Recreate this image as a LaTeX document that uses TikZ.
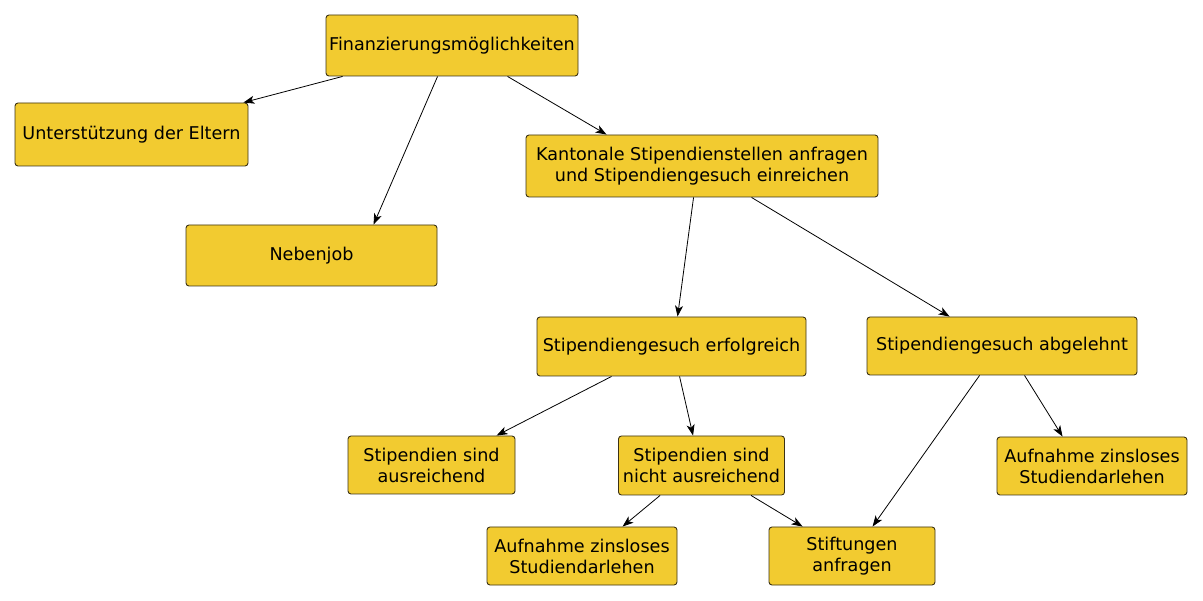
\documentclass[tikz,border=0pt]{standalone}
\usepackage{fontspec}
\setmainfont{DejaVu Sans}
\usetikzlibrary{arrows.meta,calc}
\definecolor{boxfill}{RGB}{242,203,48}
\definecolor{boxline}{RGB}{60,50,20}
\tikzset{
  box/.style={draw=boxline, line width=0.9pt, fill=boxfill, rounded corners=3pt,
    inner sep=0pt, align=center, font=\fontsize{17.6}{21}\selectfont, text=black},
  conn/.style={draw=black, line width=0.8pt, -{Stealth[length=11pt,width=8pt,inset=3pt]}}
}
\begin{document}
\begin{tikzpicture}[x=1pt,y=-1pt]
\useasboundingbox (0,0) rectangle (1203,601);
\node[box, minimum width=252, minimum height=61] (fin) at (452,45.5) {Finanzierungsmöglichkeiten};
\node[box, minimum width=233, minimum height=63] (elt) at (131.5,134.5) {Unterstützung der Eltern};
\node[box, minimum width=251, minimum height=61] (neb) at (311.5,255.5) {Nebenjob};
\node[box, minimum width=352, minimum height=62] (kan) at (702,166) {Kantonale Stipendienstellen anfragen\\und Stipendiengesuch einreichen};
\node[box, minimum width=269, minimum height=59] (erf) at (671.5,346.5) {Stipendiengesuch erfolgreich};
\node[box, minimum width=270, minimum height=58] (abg) at (1002,346) {Stipendiengesuch abgelehnt};
\node[box, minimum width=167, minimum height=58] (aus) at (431.5,465) {Stipendien sind\\ausreichend};
\node[box, minimum width=166, minimum height=59] (nau) at (701.5,465.5) {Stipendien sind\\nicht ausreichend};
\node[box, minimum width=190, minimum height=58] (auf1) at (582,556) {Aufnahme zinsloses\\Studiendarlehen};
\node[box, minimum width=166, minimum height=58] (sti) at (852,556) {Stiftungen\\anfragen};
\node[box, minimum width=190, minimum height=58] (auf2) at (1092,466) {Aufnahme zinsloses\\Studiendarlehen};

\draw[conn] ([xshift=17pt]fin.south west) -- ([xshift=-5pt]elt.north east);
\draw[conn] ([xshift=112pt]fin.south west) -- ([xshift=188pt]neb.north west);
\draw[conn] ([xshift=182pt]fin.south west) -- ([xshift=81pt]kan.north west);
\draw[conn] ([xshift=168pt]kan.south west) -- ([xshift=141pt]erf.north west);
\draw[conn] ([xshift=226pt]kan.south west) -- ([xshift=83pt]abg.north west);
\draw[conn] ([xshift=75pt]erf.south west) -- ([xshift=149pt]aus.north west);
\draw[conn] ([xshift=143pt]erf.south west) -- ([xshift=75pt]nau.north west);
\draw[conn] ([xshift=42pt]nau.south west) -- ([xshift=136pt]auf1.north west);
\draw[conn] ([xshift=133pt]nau.south west) -- ([xshift=34pt]sti.north west);
\draw[conn] ([xshift=113pt]abg.south west) -- ([xshift=104pt]sti.north west);
\draw[conn] ([xshift=158pt]abg.south west) -- ([xshift=66pt]auf2.north west);
\end{tikzpicture}
\end{document}
